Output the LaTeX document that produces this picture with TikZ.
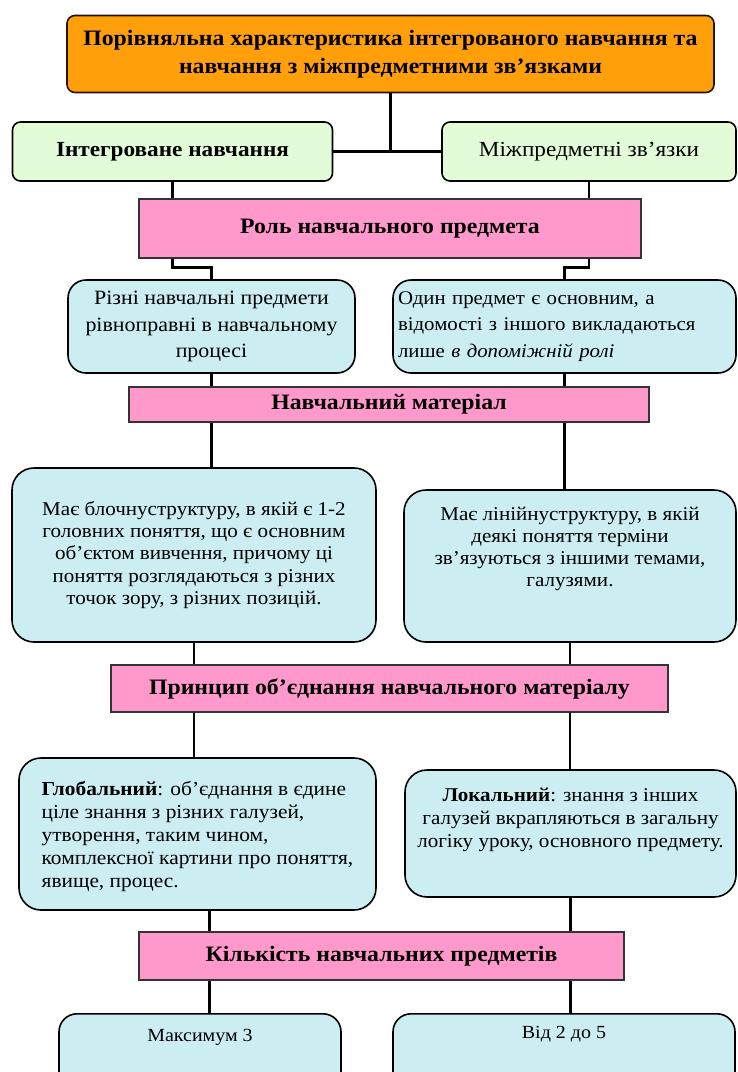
\documentclass[tikz,border=0pt]{standalone}
\usepackage{fontspec}
\setmainfont{Liberation Serif}[FakeStretch=1.08]
\definecolor{orangefill}{RGB}{255,160,10}
\definecolor{greenfill}{RGB}{226,252,216}
\definecolor{pinkfill}{RGB}{255,153,204}
\definecolor{bluefill}{RGB}{204,238,242}
\begin{document}
\begin{tikzpicture}[x=1pt,y=-1pt,
  rbox/.style={draw=black, line width=1.6pt, rounded corners=18pt, inner sep=4pt},
  titlebox/.style={rbox, draw=black!85!orange, fill=orangefill, rounded corners=8pt, font=\bfseries\fontsize{22}{28}\selectfont, align=center},
  greenbox/.style={rbox, fill=greenfill, rounded corners=8pt, font=\fontsize{21.5}{24}\selectfont},
  pinkbox/.style={draw=black!80, line width=1.4pt, fill=pinkfill, font=\bfseries\fontsize{22}{24}\selectfont, inner sep=2pt},
  bluebox/.style={rbox, fill=bluefill},
  bt/.style={font=\fontsize{20}{26.5}\selectfont},
  btt/.style={font=\fontsize{19.5}{22.2}\selectfont},
  conn/.style={draw=black, line width=2.6pt}
]
\clip (0,0) rectangle (738,1072);
\fill[white] (0,0) rectangle (738,1072);
% title
\node[titlebox, minimum width=647pt, minimum height=77pt] (title) at (390.5,54)
  {Порівняльна характеристика інтегрованого навчання та\\навчання з міжпредметними зв’язками};
% green
\node[greenbox, minimum width=320pt, minimum height=59pt] (gl) at (172.5,151.5) {\bfseries Інтегроване навчання};
\node[greenbox, minimum width=294pt, minimum height=59pt] (gr) at (589,151.5) {Міжпредметні зв’язки};
% pink 1
\node[pinkbox, minimum width=502pt, minimum height=59pt] (p1) at (390,228.5) {Роль навчального предмета};
% blue row 1
\node[bluebox, font=\fontsize{20.3}{26.5}\selectfont, minimum width=287pt, minimum height=93pt, align=center] (b1l) at (211.5,326.5)
  {Різні навчальні предмети\\рівноправні в навчальному\\процесі};
\node[bluebox, font=\fontsize{19.3}{26.5}\selectfont, minimum width=343pt, minimum height=93pt, align=left, text width=333pt, inner xsep=5pt] (b1r) at (564.5,326.5)
  {Один предмет є основним, а\\відомості з іншого викладаються\\лише \textit{в допоміжній ролі}};
% pink 2
\node[pinkbox, minimum width=520pt, minimum height=35pt] (p2) at (389,404.5) {Навчальний матеріал};
% blue row 2
\node[bluebox, btt, minimum width=364pt, minimum height=174pt, align=center, rounded corners=22pt] (b2l) at (194,555)
  {Має блочнуструктуру, в якій є 1-2\\головних поняття, що є основним\\об’єктом вивчення, причому ці\\поняття розглядаються з різних\\точок зору, з різних позицій.};
\node[bluebox, btt, minimum width=332pt, minimum height=152pt, align=center, text depth=38pt, rounded corners=22pt] (b2r) at (570,566)
  {Має лінійнуструктуру, в якій\\деякі поняття терміни\\зв’язуються з іншими темами,\\галузями.};
% pink 3
\node[pinkbox, minimum width=557pt, minimum height=47pt] (p3) at (389.5,688.5) {Принцип об’єднання навчального матеріалу};
% blue row 3
\node[bluebox, font=\fontsize{19.8}{23}\selectfont, minimum width=357pt, minimum height=152pt, align=left, text depth=-2pt, rounded corners=22pt] (b3l) at (197.5,834)
  {\textbf{Глобальний}: об’єднання в єдине\\ціле знання з різних галузей,\\утворення, таким чином,\\комплексної картини про поняття,\\явище, процес.};
\node[bluebox, font=\fontsize{19.5}{23}\selectfont, minimum width=331pt, minimum height=127pt, align=center, text depth=31pt, rounded corners=22pt] (b3r) at (570.5,833.5)
  {\textbf{Локальний}: знання з інших\\галузей вкрапляються в загальну\\логіку уроку, основного предмету.};
% pink 4
\node[pinkbox, minimum width=485pt, minimum height=48pt] (p4) at (381.5,956) {Кількість навчальних предметів};
% bottom boxes
\node[bluebox, minimum width=282pt, minimum height=100pt, anchor=north] (b4l) at (200,1013) {};
\node[bluebox, minimum width=342pt, minimum height=100pt, anchor=north] (b4r) at (564,1013) {};
\node[font=\fontsize{18.5}{22}\selectfont] (t4l) at (b4l.north |- 0,1037) {Максимум 3};
\node[font=\fontsize{18.5}{22}\selectfont] (t4r) at (b4r.north |- 0,1034) {Від 2 до 5};
% connectors
\draw[conn] (title.south) -- (title.south |- gl.east);
\draw[conn] (gl.east) -- (gr.west);
\draw[conn] (gl.south) -- (gl.south |- p1.north);
\draw[conn] (gr.south) -- (gr.south |- p1.north);
\draw[conn] (p1.south -| gl.south) -- ++(0,9) -| (b1l.north);
\draw[conn] (p1.south -| gr.south) -- ++(0,9) -| (b1r.north);
\draw[conn] (b1l.south) -- (b1l.south |- p2.north);
\draw[conn] (b1r.south) -- (b1r.south |- p2.north);
\draw[conn] (p2.south -| b1l.south) -- (b2l.north -| b1l.south);
\draw[conn] (p2.south -| b1r.south) -- (b2r.north -| b1r.south);
\draw[conn] (b2l.south) -- (b2l.south |- p3.north);
\draw[conn] (b2r.south) -- (b2r.south |- p3.north);
\draw[conn] (p3.south -| b2l.south) -- (b3l.north -| b2l.south);
\draw[conn] (p3.south -| b2r.south) -- (b3r.north -| b2r.south);
\draw[conn] ([xshift=12pt]b3l.south) -- ([xshift=12pt]b3l.south |- p4.north);
\draw[conn] (b3r.south) -- (b3r.south |- p4.north);
\draw[conn] ([xshift=12pt]b3l.south |- p4.south) -- ([xshift=12pt]b3l.south |- b4l.north);
\draw[conn] (b3r.south |- p4.south) -- (b3r.south |- b4r.north);
\end{tikzpicture}
\end{document}
